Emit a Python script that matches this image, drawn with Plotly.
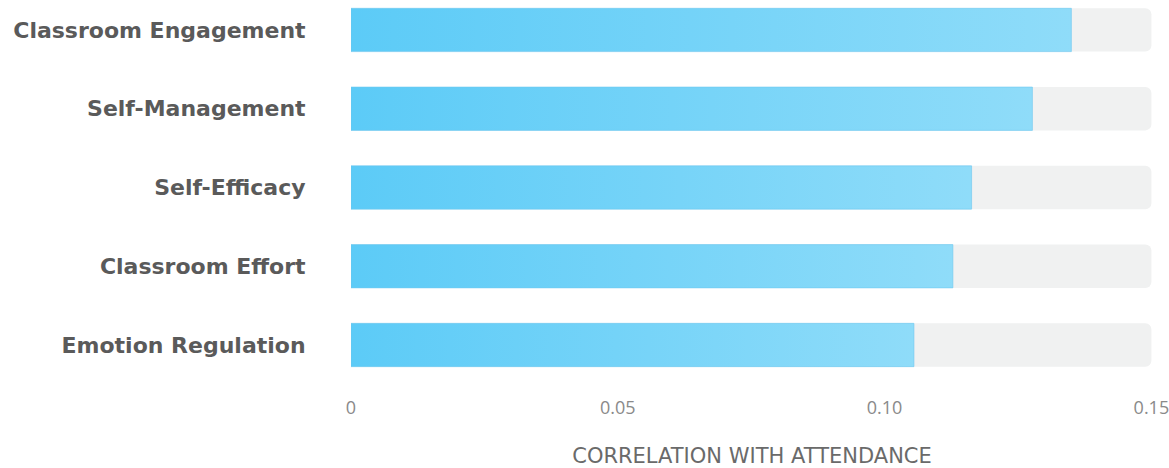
import plotly.graph_objects as go

categories = ["Emotion Regulation", "Classroom Effort", "Self-Efficacy", "Self-Management", "Classroom Engagement"]
values = [0.1055, 0.1128, 0.1163, 0.1277, 0.135]
axis_max = 0.15
tick_vals = [0, 0.05, 0.10, 0.15]
tick_text = ["0", "0.05", "0.10", "0.15"]

half = 0.275
fig = go.Figure()

# background tracks
fig.add_trace(go.Bar(
    y=list(range(len(categories))), x=[axis_max] * len(categories), orientation="h",
    width=2 * half, marker=dict(color="#f0f1f1", cornerradius=6, line=dict(width=0)),
    hoverinfo="skip", showlegend=False,
))

# gradient bars
for i, v in enumerate(values):
    fig.add_trace(go.Scatter(
        x=[0, v, v, 0, 0], y=[i - half, i - half, i + half, i + half, i - half],
        mode="lines", line=dict(width=1, color="rgba(110,200,240,0.6)"),
        fill="toself",
        fillgradient=dict(type="horizontal", colorscale=[[0, "#5ccbf7"], [1, "#8fdcf9"]]),
        showlegend=False, hoverinfo="skip",
    ))

fig.update_layout(
    width=1169, height=468,
    margin=dict(l=351, r=16, t=5, b=93, autoexpand=False),
    plot_bgcolor="white", paper_bgcolor="white",
    barmode="overlay",
    font=dict(family="DejaVu Sans", color="#555"),
    xaxis=dict(
        range=[0, axis_max * 1.002], tickvals=tick_vals, ticktext=tick_text,
        showgrid=False, zeroline=False, showline=False, automargin=False,
        ticks="outside", ticklen=16, tickcolor="rgba(0,0,0,0)",
        ticklabeloverflow="allow",
        tickfont=dict(size=18, color="#8a8a8a", family="Open Sans"),
        title=dict(text="CORRELATION WITH ATTENDANCE", standoff=33,
                   font=dict(size=21, color="#6a6a6a", family="DejaVu Sans")),
    ),
    yaxis=dict(
        range=[-0.381, 4.317], tickvals=list(range(len(categories))), ticktext=categories,
        showgrid=False, zeroline=False, showline=False, automargin=False,
        ticks="outside", ticklen=40, tickcolor="rgba(0,0,0,0)",
        tickfont=dict(size=22, color="#5a5a5a", family="DejaVu Sans", weight="bold"),
    ),
)

fig.write_html("out.html")
